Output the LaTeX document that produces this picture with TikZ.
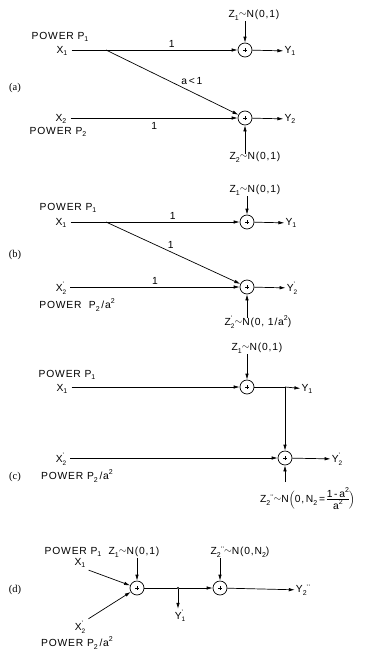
\documentclass[tikz,border=0pt]{standalone}
\usepackage{fontspec}
\setmainfont{Liberation Sans}
\newfontfamily\seriffam{Liberation Serif}
\usetikzlibrary{arrows.meta,positioning}
\newcommand\lsub[1]{\raisebox{-0.5ex}{\fontsize{7}{7}\selectfont #1}}
\newcommand\lpsub[2]{\raisebox{-0.5ex}{\fontsize{6.5}{6.8}\selectfont\shortstack[l]{#2\\#1}}}
\newcommand\lsup[1]{\raisebox{0.9ex}{\fontsize{7}{7}\selectfont #1}}
\newcommand\ldsub[1]{\lsub{#1}\raisebox{0.6ex}{\fontsize{6.5}{6.5}\selectfont '{}'}}
\newcommand\tld{\raisebox{0.15ex}{$\sim$}}
\begin{document}
\begin{tikzpicture}[x=1pt,y=-1pt,
  lbl/.style={font=\fontsize{10.3}{11}\selectfont\addfontfeature{LetterSpace=8}, inner sep=1pt},
  tag/.style={font=\seriffam\fontsize{10.5}{11}\selectfont, inner sep=1pt},
  sum/.style={circle, draw, line width=0.7pt, minimum size=14pt, inner sep=0pt,
    path picture={\draw[line width=0.5pt] (path picture bounding box.center) +(-2,0) -- +(2,0)
      (path picture bounding box.center) +(0,-2) -- +(0,2);}},
  wire/.style={line width=0.7pt},
  arr/.style={wire, -{Latex[length=6pt,width=3.5pt]}},
  jdot/.style={circle, fill, inner sep=0pt, minimum size=2.2pt}
]
\useasboundingbox (0,0) rectangle (374,653);

% ---------------- (a)
\node[tag] (ta) at (15,88) {(a)};
\node[lbl] (pa1) at (60,37) {POWER P\lsub{1}};
\node[lbl] (xa1) at (62,51) {X\lsub{1}};
\coordinate (ba) at (106,50);
\node[sum] (sa1) at (245,50) {};
\node[lbl] (ya1) at (290,51) {Y\lsub{1}};
\node[lbl] (za1) at (254,15) {Z\lsub{1}\tld N(0,1)};
\node[lbl] (xa2) at (61,119) {X\lsub{2}};
\node[lbl] (pa2) at (58,132) {POWER P\lsub{2}};
\node[sum] (sa2) at (245,118) {};
\node[lbl] (ya2) at (290,119) {Y\lsub{2}};
\node[lbl] (za2) at (255,157) {Z\lsub{2}\tld N(0,1)};
\draw[wire] (xa1.east |- ba) ++(3,0) -- (ba);
\draw[arr] (ba) -- node[lbl, above=1pt] {1} (sa1);
\draw[arr] (ba) -- node[lbl, pos=0.56, anchor=south west] {a\,<\,1} (sa2);
\draw[arr] (sa1) -- (ya1);
\draw[arr] (za1.south -| sa1) -- (sa1);
\draw[arr] (xa2.east |- sa2) ++(3,0) -- node[lbl, below=3pt] {1} (sa2);
\draw[arr] (sa2) -- (ya2);
\draw[arr] (za2.north -| sa2) ++(0,3) -- (sa2);

% ---------------- (b)
\node[tag] (tb) at (15,255) {(b)};
\node[lbl] (pb1) at (68,208) {POWER P\lsub{1}};
\node[lbl] (xb1) at (61,223) {X\lsub{1}};
\coordinate (bb) at (106,222);
\node[sum] (sb1) at (247,222) {};
\node[lbl] (yb1) at (291,223) {Y\lsub{1}};
\node[lbl] (zb1) at (255,190) {Z\lsub{1}\tld N(0,1)};
\node[lbl] (xb2) at (61,288) {X\lpsub{2}{'}};
\node[lbl] (pb2) at (77,305) {POWER \ P\lsub{2}\,/a\lsup{2}};
\node[sum] (sb2) at (247,287) {};
\node[lbl] (yb2) at (292,288) {Y\lpsub{2}{'}};
\node[lbl] (zb2) at (258,322) {Z\lpsub{2}{'}\tld N(0, 1/a\lsup{2})};
\draw[wire] (xb1.east |- bb) ++(3,0) -- (bb);
\draw[arr] (bb) -- node[lbl, above=1pt] {1} (sb1);
\draw[arr] (bb) -- node[lbl, pos=0.45, anchor=south west] {1} (sb2);
\draw[arr] (sb1) -- (yb1);
\draw[arr] (zb1.south -| sb1) -- (sb1);
\draw[arr] (xb2.east |- sb2) ++(3,0) -- node[lbl, above=1pt] {1} (sb2);
\draw[arr] (sb2) -- (yb2);
\draw[arr] (zb2.north -| sb2) ++(0,3) -- (sb2);

% ---------------- (c)
\node[tag] (tc) at (15,477) {(c)};
\node[lbl] (zc1) at (257,348) {Z\lsub{1}\tld N(0,1)};
\node[lbl] (pc1) at (67,375) {POWER P\lsub{1}};
\node[lbl] (xc1) at (62,389) {X\lsub{1}};
\node[sum] (sc1) at (247,387) {};
\coordinate (bc) at (285,387);
\node[lbl] (yc1) at (307,389) {Y\lsub{1}};
\node[lbl] (xc2) at (61,459) {X\lpsub{2}{'}};
\node[lbl] (pc2) at (77,476) {POWER P\lsub{2}\,/a\lsup{2}};
\node[sum] (sc2) at (285,458) {};
\node[lbl] (yc2) at (337,459) {Y\lpsub{2}{'}};
\node[lbl, anchor=west] (zc2) at (259,500) {Z\ldsub{2}\tld N$\Big($0,\,N\lsub{2}\,=\,\begin{tabular}{@{}c@{}}1\,-\,a\lsup{2}\\[-1pt]\hline\rule{0pt}{8pt}a\lsup{2}\end{tabular}$\Big)$};
\draw[arr] (xc1.east |- sc1) ++(3,0) -- (sc1);
\draw[arr] (zc1.south -| sc1) -- (sc1);
\draw[wire] (sc1) -- (bc);
\draw[arr] (bc) -- (yc1);
\draw[arr] (bc) -- (sc2);
\draw[arr] (xc2.east |- sc2) ++(3,0) -- (sc2);
\draw[arr] (sc2) -- (yc2);
\draw[arr] (sc2 |- zc2.north) ++(0,-4) -- (sc2);

% ---------------- (d)
\node[tag] (td) at (15,590) {(d)};
\node[lbl] (pd1) at (73,552) {POWER P\lsub{1}};
\node[lbl] (xd1) at (80,563) {X\lsub{1}};
\node[lbl] (zd1) at (134,552) {Z\lsub{1}\tld N(0,1)};
\node[lbl] (zd2) at (240,552) {Z\ldsub{2}\tld N(0,N\lsub{2})};
\node[sum] (sd1) at (137,588) {};
\node[sum] (sd2) at (220,588) {};
\node[jdot] (bd) at (178,588) {};
\node[lbl] (yd1) at (180,616) {Y\lpsub{1}{'}};
\node[lbl] (yd2) at (303,590) {Y\ldsub{2}};
\node[lbl] (xd2) at (80,627) {X\lpsub{2}{'}};
\node[lbl] (pd2) at (77,643) {POWER P\lsub{2}\,/a\lsup{2}};
\draw[arr] (xd1.south east) ++(2,1) -- (sd1);
\draw[arr] (xd2.north east) ++(2,-1) -- (sd1);
\draw[arr] (zd1.south -| sd1) -- (sd1);
\draw[arr] (zd2.south -| sd2) -- (sd2);
\draw[wire] (sd1) -- (bd);
\draw[arr] (bd) -- (sd2);
\draw[arr] (bd) -- (yd1.north -| bd);
\draw[arr] (sd2) -- (yd2);
\end{tikzpicture}
\end{document}
